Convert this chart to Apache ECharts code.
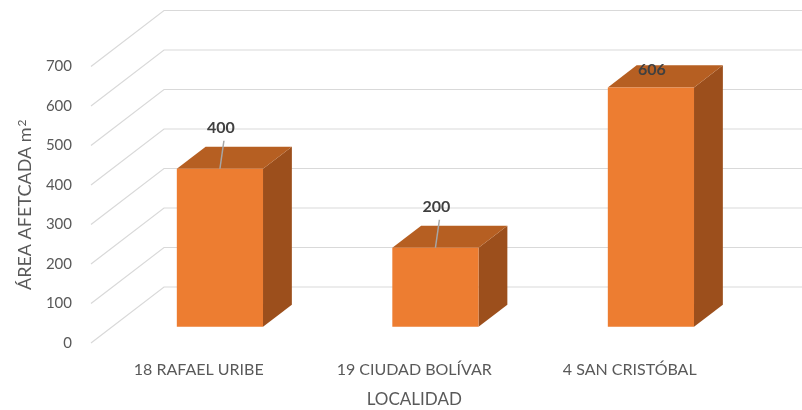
<!DOCTYPE html>
<html>
<head>
<meta charset="utf-8">
<script src="https://cdn.jsdelivr.net/npm/echarts@6/dist/echarts.min.js"></script>
<style>html,body{margin:0;padding:0;background:#fff}#c{width:802px;height:410px}</style>
</head>
<body>
<div id="c"></div>
<script>
var categories = ['18 RAFAEL URIBE', '19 CIUDAD BOLÍVAR', '4 SAN CRISTÓBAL'];
var values = [400, 200, 606];
var yTicks = [0, 100, 200, 300, 400, 500, 600, 700];

var DX = 73, DY = -56;          // full depth of the 3D box
var BF = 0.29, BB = 0.685;      // bar front/back depth fraction
var BW = 0.4;                   // bar width fraction of band
var FONT = 'Lato';

var chart = echarts.init(document.getElementById('c'), null, {renderer: 'canvas'});

var option = {
  animation: false,
  backgroundColor: '#fff',
  grid: {left: 91, top: 66.5, width: 646.5, height: 276.5, containLabel: false, outerBoundsMode: 'none'},
  xAxis: {
    type: 'category',
    data: categories,
    axisLine: {show: false},
    axisTick: {show: false},
    axisLabel: {color: '#595959', fontFamily: FONT, fontSize: 16, margin: 19},
    name: 'LOCALIDAD',
    nameLocation: 'middle',
    nameGap: 48,
    nameTextStyle: {color: '#595959', fontFamily: FONT, fontSize: 17}
  },
  yAxis: {
    type: 'value',
    min: 0, max: 700, interval: 100,
    axisLine: {show: false},
    axisTick: {show: false},
    splitLine: {show: false},
    axisLabel: {color: '#595959', fontFamily: FONT, fontSize: 15, margin: 19},
    name: 'ÁREA AFETCADA m{sup|2}',
    nameLocation: 'middle',
    nameGap: 57,
    nameTextStyle: {color: '#595959', fontFamily: FONT, fontSize: 18,
      rich: {sup: {fontSize: 12, verticalAlign: 'top', color: '#595959', fontFamily: FONT, padding: [0, 0, 6, 1]}}}
  },
  series: [
    {
      type: 'custom',
      z: 1,
      silent: true,
      data: yTicks.map(function (t) { return [0, t]; }),
      renderItem: function (params, api) {
        var cs = params.coordSys;
        var y = api.coord([0, api.value(1)])[1];
        var x0 = cs.x, x1 = cs.x + cs.width;
        return {
          type: 'polyline',
          shape: {points: [[x0, y], [x0 + DX, y + DY], [x1 + DX, y + DY]]},
          style: {stroke: '#d9d9d9', lineWidth: 1.2, fill: null}
        };
      }
    },
    {
      type: 'custom',
      z: 2,
      data: values.map(function (v, i) { return [i, v]; }),
      renderItem: function (params, api) {
        var cs = params.coordSys;
        var idx = api.value(0), v = api.value(1);
        var p0 = api.coord([idx, 0]);
        var p1 = api.coord([idx, v]);
        var band = api.size([1, 0])[0];
        var w = band * BW;
        var fx = BF * DX, fy = BF * DY;
        var bx = BB * DX, by = BB * DY;
        var cx = p0[0] + fx;
        var L = cx - w / 2, R = cx + w / 2;
        var T = p1[1] + fy, B = p0[1] + fy;
        var ddx = bx - fx, ddy = by - fy;
        var labelY = Math.max(T - 41, cs.y + 3);
        var children = [
          {type: 'polygon', shape: {points: [[R, T], [R + ddx, T + ddy], [R + ddx, B + ddy], [R, B]]},
           style: {fill: '#9C4F1C'}},
          {type: 'polygon', shape: {points: [[L, T], [R, T], [R + ddx, T + ddy], [L + ddx, T + ddy]]},
           style: {fill: '#B65F22'}},
          {type: 'rect', shape: {x: L, y: T, width: w, height: B - T},
           style: {fill: '#ED7D31'}}
        ];
        if (T - labelY > 25) {
          children.push({type: 'line', shape: {x1: cx + 4, y1: labelY + 13, x2: cx, y2: T},
            style: {stroke: '#a6a6a6', lineWidth: 1.5}});
        }
        children.push({type: 'text', style: {
          text: String(v), x: cx + 1, y: labelY, align: 'center', verticalAlign: 'middle',
          fill: '#404040', font: 'bold 16px ' + FONT}});
        return {type: 'group', children: children};
      }
    }
  ]
};
chart.setOption(option);
</script>
</body>
</html>
